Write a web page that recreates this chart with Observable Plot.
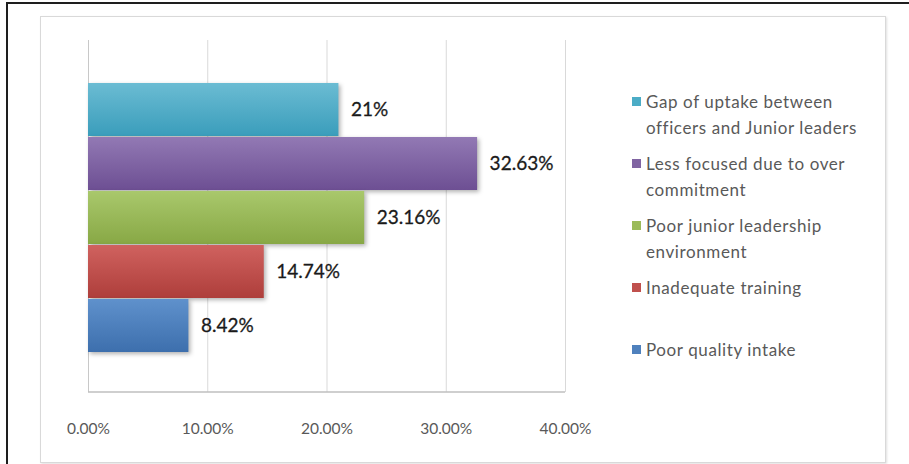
<!DOCTYPE html>
<html>
<head>
<meta charset="utf-8">
<script src="https://cdn.jsdelivr.net/npm/d3@7"></script>
<script src="https://cdn.jsdelivr.net/npm/@observablehq/plot@0.6"></script>
<style>
  html, body { margin: 0; padding: 0; background: #fff; }
  #wrap { position: relative; width: 909px; height: 464px; overflow: hidden; font-family: Lato, "Open Sans", sans-serif; }
  #outer { position: absolute; left: 6px; top: 2px; width: 960px; height: 520px; border-top: 2px solid #1e1e1e; border-left: 2px solid #1e1e1e; box-sizing: border-box; }
  #inner { position: absolute; left: 40px; top: 16px; width: 846px; height: 447px; border: 1px solid #d9d9d9; box-shadow: 1px 1px 2px rgba(0,0,0,0.12); box-sizing: border-box; background: #fff; }
  #chart { position: absolute; left: 0; top: 0; }
  #legend { position: absolute; left: 632px; top: 89px; width: 260px; }
  .item { height: 62px; display: flex; align-items: flex-start; }
  .sw { width: 9px; height: 9px; margin-top: 8px; margin-right: 5px; flex: none; }
  .txt { font-size: 17px; line-height: 25.5px; color: #595959; letter-spacing: 0.6px; }
</style>
</head>
<body>
<div id="wrap">
  <div id="outer"></div>
  <div id="inner"></div>
  <div id="chart"></div>
  <div id="legend"></div>
</div>
<script>
const series = [
  "Gap of uptake between officers and Junior leaders",
  "Less focused due to over commitment",
  "Poor junior leadership environment",
  "Inadequate training",
  "Poor quality intake"
];
const legendLines = [
  ["Gap of uptake between", "officers and Junior leaders"],
  ["Less focused due to over", "commitment"],
  ["Poor junior leadership", "environment"],
  ["Inadequate training"],
  ["Poor quality intake"]
];
const values = [21, 32.63, 23.16, 14.74, 8.42];
const valueLabels = ["21%", "32.63%", "23.16%", "14.74%", "8.42%"];
const colors = ["#4bacc6", "#8064a2", "#9bbb59", "#c0504d", "#4f81bd"];
const gradTop = ["#6bbcd3", "#9279b4", "#a9c86c", "#d0625f", "#5f91cc"];
const gradBottom = ["#3a9dbb", "#6d4f93", "#88a845", "#ae3e3b", "#3d6fad"];
const xTicks = [0, 10, 20, 30, 40];

const data = series.map((s, i) => ({series: s, value: values[i], label: valueLabels[i], idx: i}));

const plot = Plot.plot({
  width: 909,
  height: 464,
  marginLeft: 88,
  marginRight: 344,
  marginTop: 40,
  marginBottom: 72,
  style: {background: "transparent", fontFamily: "Lato, 'Open Sans', sans-serif"},
  x: {domain: [0, 40], ticks: xTicks, tickFormat: d => d.toFixed(2) + "%", label: null},
  y: {domain: series, range: [81, 353], padding: 0.02, axis: null},
  marks: [
    Plot.ruleX(xTicks.slice(1), {stroke: "#d9d9d9", strokeWidth: 1}),
    Plot.ruleX([0], {stroke: "#c8c8c8", strokeWidth: 1}),
    Plot.barX(data, {
      x: "value", y: "series",
      fill: d => `url(#g${d.idx})`
    }),
    Plot.text(data, {
      x: "value", y: "series", text: "label",
      dx: 12, textAnchor: "start", fontSize: 19, fill: "#1a1a1a", stroke: "#1a1a1a", strokeWidth: 0.3
    }),
    Plot.axisX({ticks: xTicks, tickFormat: d => d.toFixed(2) + "%", tickSize: 0, tickPadding: 30, fontSize: 15.5, fill: "#595959", label: null})
  ]
});

// gradients for bars
const svg = d3.select(plot);
const defs = svg.insert("defs", ":first-child");
colors.forEach((c, i) => {
  const g = defs.append("linearGradient").attr("id", "g" + i).attr("x1", 0).attr("x2", 0).attr("y1", 0).attr("y2", 1);
  g.append("stop").attr("offset", "0%").attr("stop-color", gradTop[i]);
  g.append("stop").attr("offset", "100%").attr("stop-color", gradBottom[i]);
});
svg.selectAll("rect").style("filter", "drop-shadow(2px 2px 2px rgba(0,0,0,0.3))");

document.getElementById("chart").appendChild(plot);

// bottom axis line
const xs = plot.scale("x");
svg.append("line")
  .attr("x1", xs.apply(0)).attr("x2", xs.apply(40))
  .attr("y1", 392).attr("y2", 392)
  .attr("stroke", "#bfbfbf").attr("stroke-width", 1.5);

// legend
const leg = d3.select("#legend");
legendLines.forEach((lines, i) => {
  const it = leg.append("div").attr("class", "item");
  it.append("div").attr("class", "sw").style("background", colors[i]);
  it.append("div").attr("class", "txt").html(lines.join("<br>"));
});
</script>
</body>
</html>
